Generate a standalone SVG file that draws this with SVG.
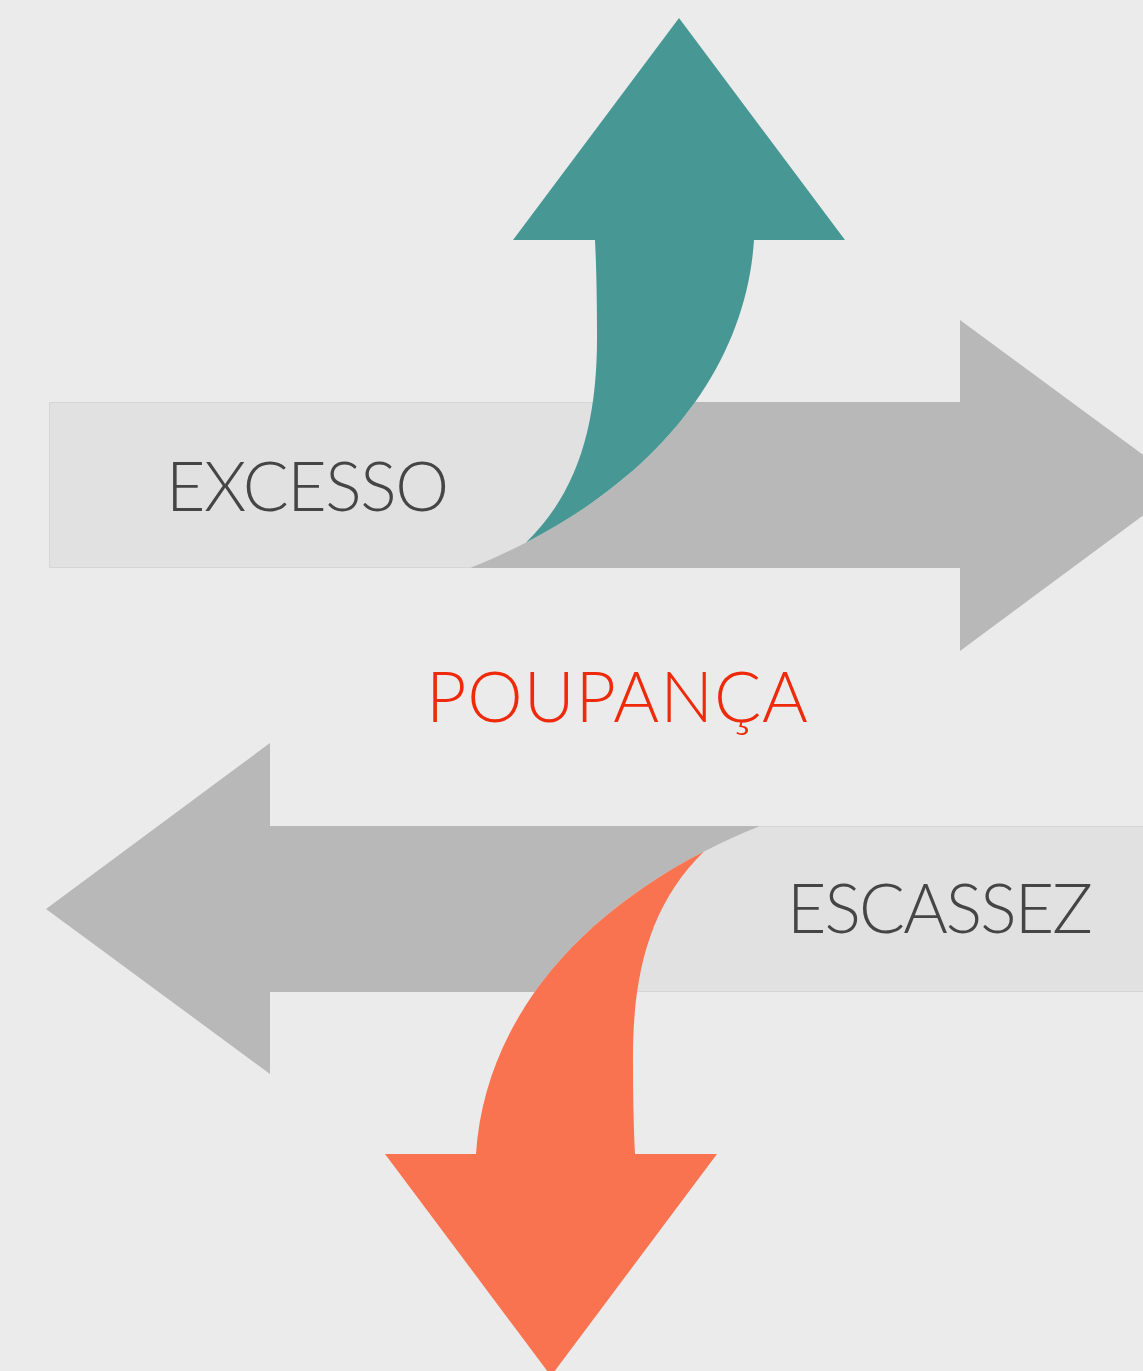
<svg xmlns="http://www.w3.org/2000/svg" width="1143" height="1371" viewBox="0 0 1143 1371">
<style>
.dark{fill:#b8b8b8}
.light{fill:#e1e1e1}
.edge{fill:none;stroke:#d6d6d6;stroke-width:1}
.lbl{font-family:Lato,"Open Sans",sans-serif;font-weight:300;font-size:68px;fill:#454545}
</style>
<defs>
<clipPath id="body"><rect x="49" y="402" width="1200" height="166"/></clipPath>
<path id="curved" d="M513,240 L679,18 L845,240 L754,240 C746,364 663,472 526,542.5 C580,490 598,420 597,330 C597,290 596,260 595,240 Z"/>
<g id="unit">
<path class="dark" d="M49,402 L960,402 L960,320 L1184,485 L960,651 L960,568 L49,568 Z"/>
<path class="light" clip-path="url(#body)" d="M49,402 L49,240 L754,240 C746,364 663,472 526,542.5 C508,552 490,560 470,568 L49,568 Z"/>
<path class="edge" d="M600,402.5 L49.5,402.5 L49.5,567.5 L470,567.5"/>
</g>
</defs>
<rect width="1143" height="1371" fill="#ebebeb"/>
<g id="excesso">
<use href="#unit"/>
<use id="up-arrow" href="#curved" fill="#479895"/>
<text class="lbl" x="166" y="511" textLength="283" lengthAdjust="spacing">EXCESSO</text>
</g>
<g id="escassez">
<g transform="rotate(180 615 697)">
<use href="#unit"/>
<use id="down-arrow" href="#curved" fill="#f97351"/>
</g>
<text class="lbl" x="787" y="933" textLength="306" lengthAdjust="spacing">ESCASSEZ</text>
</g>
<g id="poupanca">
<text x="426" y="722" font-family="Lato,'Open Sans',sans-serif" font-weight="300" font-size="70" fill="#ee2a0b" textLength="382" lengthAdjust="spacing">POUPANÇA</text>
</g>
</svg>
